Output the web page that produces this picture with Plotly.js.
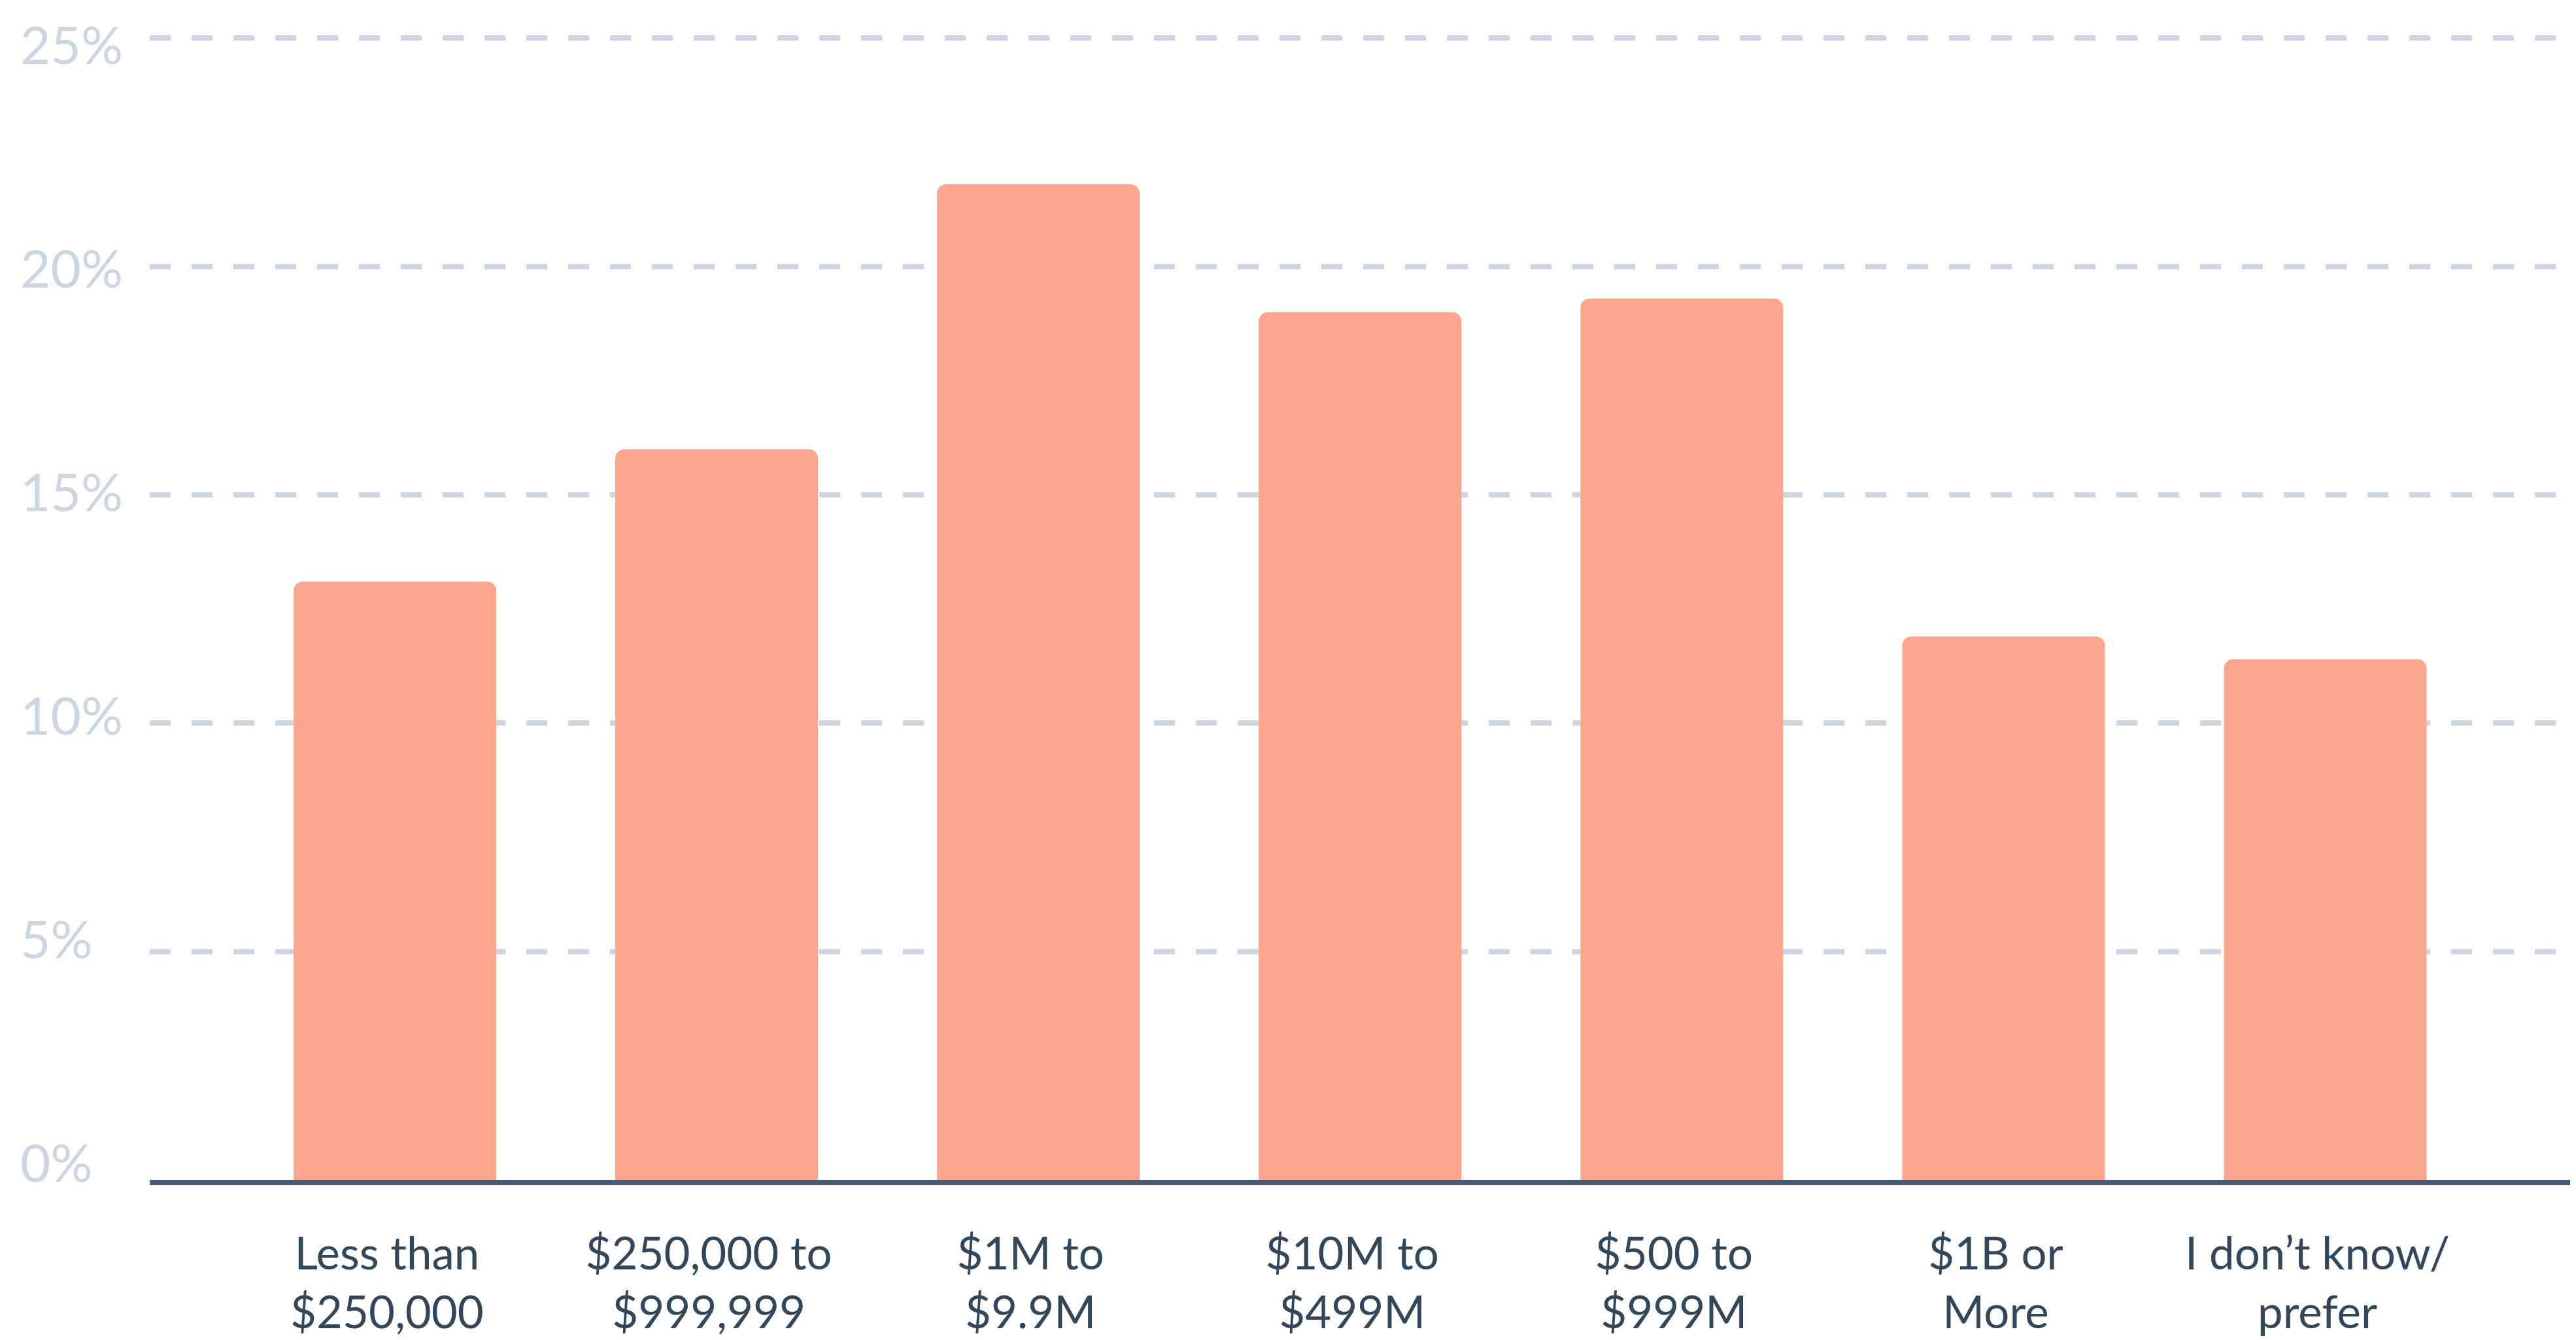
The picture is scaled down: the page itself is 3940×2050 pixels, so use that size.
<!DOCTYPE html>
<html>
<head>
<meta charset="utf-8">
<script src="https://cdn.plot.ly/plotly-3.0.1.min.js"></script>
<style>
html,body{margin:0;padding:0;background:#fff;}
#chart{width:3940px;height:2050px;}
</style>
</head>
<body>
<div id="chart"></div>
<script>
// Data
const categories = ["Less than $250,000", "$250,000 to $999,999", "$1M to $9.9M", "$10M to $499M", "$500 to $999M", "$1B or More", "I don’t know/ prefer"];
const categoryLabels = ["Less than<br>$250,000", "$250,000 to<br>$999,999", "$1M to<br>$9.9M", "$10M to<br>$499M", "$500 to<br>$999M", "$1B or<br>More", "I don’t know/<br>prefer"];
const values = [13.1, 16.0, 21.8, 19.0, 19.3, 11.9, 11.4];
const yTickValues = [0, 5, 10, 15, 20, 25];
const yTickLabels = ["0%\u2007", "5%\u2007", "10%", "15%", "20%", "25%"];

const barTrace = {
  type: "bar",
  x: categories,
  y: values,
  width: 0.63,
  marker: { color: "#fca68d", cornerradius: 14, line: { width: 0 } },
  hoverinfo: "skip"
};

// empty trace that only carries the label axis (labels sit on an evenly spaced scale of their own, as in the reference)
const labelAxisTrace = {
  type: "scatter",
  mode: "markers",
  x: [],
  y: [],
  yaxis: "y2",
  hoverinfo: "skip",
  showlegend: false
};

const labelFont = { family: "Lato, 'Open Sans', sans-serif", size: 80, color: "#cbd6e2" };

const layout = {
  width: 3940,
  height: 2050,
  margin: { l: 229, r: 9, t: 27, b: 245, pad: 0 },
  paper_bgcolor: "#ffffff",
  plot_bgcolor: "#ffffff",
  showlegend: false,
  font: { family: "Lato, 'Open Sans', sans-serif" },
  xaxis: {
    type: "category",
    range: [-0.762, 6.761],
    tickmode: "array",
    tickvals: categories,
    ticktext: categoryLabels,
    showgrid: false,
    zeroline: false,
    showline: true,
    linecolor: "#425b76",
    linewidth: 8,
    ticks: "",
    ticklabelstandoff: 46,
    ticklabelshift: -12,
    tickfont: { family: "Lato, 'Open Sans', sans-serif", size: 69, color: "#33475b" }
  },
  yaxis: {
    range: [0, 25.45],
    tickmode: "array",
    tickvals: yTickValues,
    showticklabels: false,
    showgrid: true,
    gridcolor: "#cbd6e2",
    gridwidth: 8,
    griddash: "32px,32px",
    zeroline: false,
    showline: false,
    ticks: ""
  },
  yaxis2: {
    overlaying: "y",
    side: "left",
    anchor: "x",
    range: [-0.366, 25.636],
    tickmode: "array",
    tickvals: yTickValues,
    ticktext: yTickLabels,
    showgrid: false,
    zeroline: false,
    showline: false,
    ticks: "",
    ticklabelstandoff: 40,
    tickfont: labelFont
  }
};

Plotly.newPlot("chart", [barTrace, labelAxisTrace], layout, { staticPlot: true, displayModeBar: false });
</script>
</body>
</html>
